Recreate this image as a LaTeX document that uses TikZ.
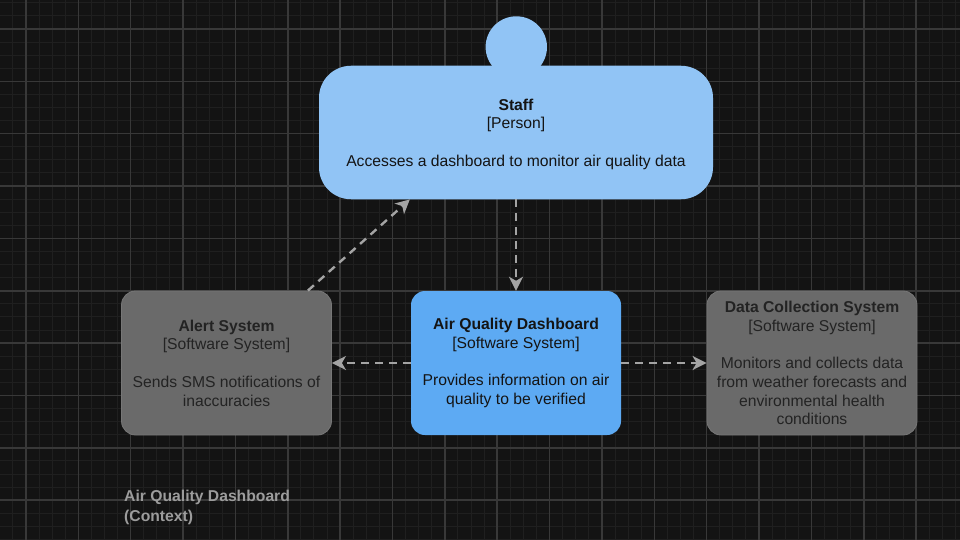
\documentclass[tikz,border=0pt]{standalone}
\usepackage{fontspec}
\setmainfont{Liberation Sans}
\usetikzlibrary{arrows.meta,calc}
\definecolor{bgcol}{HTML}{131313}
\definecolor{minorcol}{HTML}{1F1F1F}
\definecolor{majorcol}{HTML}{383838}
\definecolor{staffblue}{HTML}{91C4F5}
\definecolor{sysblue}{HTML}{5DAAF3}
\definecolor{extgray}{HTML}{6A6A6A}
\definecolor{extborder}{HTML}{777777}
\definecolor{conncol}{HTML}{A4A4A4}
\definecolor{txtdark}{HTML}{141414}
\definecolor{txtgray}{HTML}{232323}
\definecolor{titlecol}{HTML}{9C9C9C}
\tikzset{
  minorgrid/.style={draw=minorcol, line width=1pt},
  majorgrid/.style={draw=majorcol, line width=1.5pt},
  boxtext/.style={align=center, font=\fontsize{15.7}{18.7}\selectfont, inner sep=0pt},
  personbody/.style={boxtext, fill=staffblue, rounded corners=32pt, minimum width=394pt, minimum height=133.5pt, text=txtdark},
  personhead/.style={circle, fill=staffblue, minimum size=61.4pt, inner sep=0pt},
  systembox/.style={boxtext, fill=sysblue, rounded corners=14pt, minimum width=210pt, minimum height=144pt, text=txtdark},
  extbox/.style={boxtext, fill=extgray, draw=extborder, line width=0.8pt, rounded corners=14pt, minimum width=210pt, minimum height=144pt, text=txtgray},
  conn/.style={draw=conncol, line width=2.4pt, dash pattern=on 8pt off 6pt, -{Stealth[length=14pt,width=14pt,inset=4pt]}},
  titletext/.style={align=left, anchor=west, font=\bfseries\fontsize{15.7}{19.5}\selectfont, text=titlecol, inner sep=0pt}
}
\begin{document}
\begin{tikzpicture}[x=1pt,y=-1pt]
\fill[bgcol] (0,0) rectangle (960,540);
\useasboundingbox (0,0) rectangle (960,540);
% grid
\foreach \i in {0,...,73} { \draw[minorgrid] ({12.9+13.09*\i},0) -- ({12.9+13.09*\i},540); }
\foreach \j in {0,...,41} { \draw[minorgrid] (0,{2.82+13.09*\j}) -- (960,{2.82+13.09*\j}); }
\foreach \i in {0,...,18} { \draw[majorgrid] ({26+52.36*\i},0) -- ({26+52.36*\i},540); }
\foreach \j in {0,...,10} { \draw[majorgrid] (0,{29+52.36*\j}) -- (960,{29+52.36*\j}); }
% nodes
\node[personhead] (head) at (516.3,47) {};
\node[personbody] (staff) at (516,132.5) {};
\node[boxtext, text=txtdark] (stafftext) at (516,134) {\textbf{Staff}\\{[Person]}\\[18.7pt]Accesses a dashboard to monitor air quality data};
\node[extbox] (alert) at (226.5,363) {\textbf{Alert System}\\{[Software System]}\\[18.7pt]Sends SMS notifications of\\inaccuracies};
\node[systembox] (aqd) at (516,363) {\textbf{Air Quality Dashboard}\\{[Software System]}\\[18.7pt]Provides information on air\\quality to be verified};
\node[extbox] (dcs) at (812,363) {\textbf{Data Collection System}\\{[Software System]}\\[18.7pt]Monitors and collects data\\from weather forecasts and\\environmental health\\conditions};
\node[titletext] (title) at (124,507.5) {Air Quality Dashboard\\(Context)};
% connectors
\coordinate (a1) at ($(alert.north east)+(-24,0)$);
\coordinate (s1) at ($(staff.south west)+(91,0)$);
\draw[conn] (staff.south) -- (aqd.north);
\draw[conn] (aqd.west) -- (alert.east);
\draw[conn] (aqd.east) -- (dcs.west);
\draw[conn] (a1) -- (s1);
\end{tikzpicture}
\end{document}
